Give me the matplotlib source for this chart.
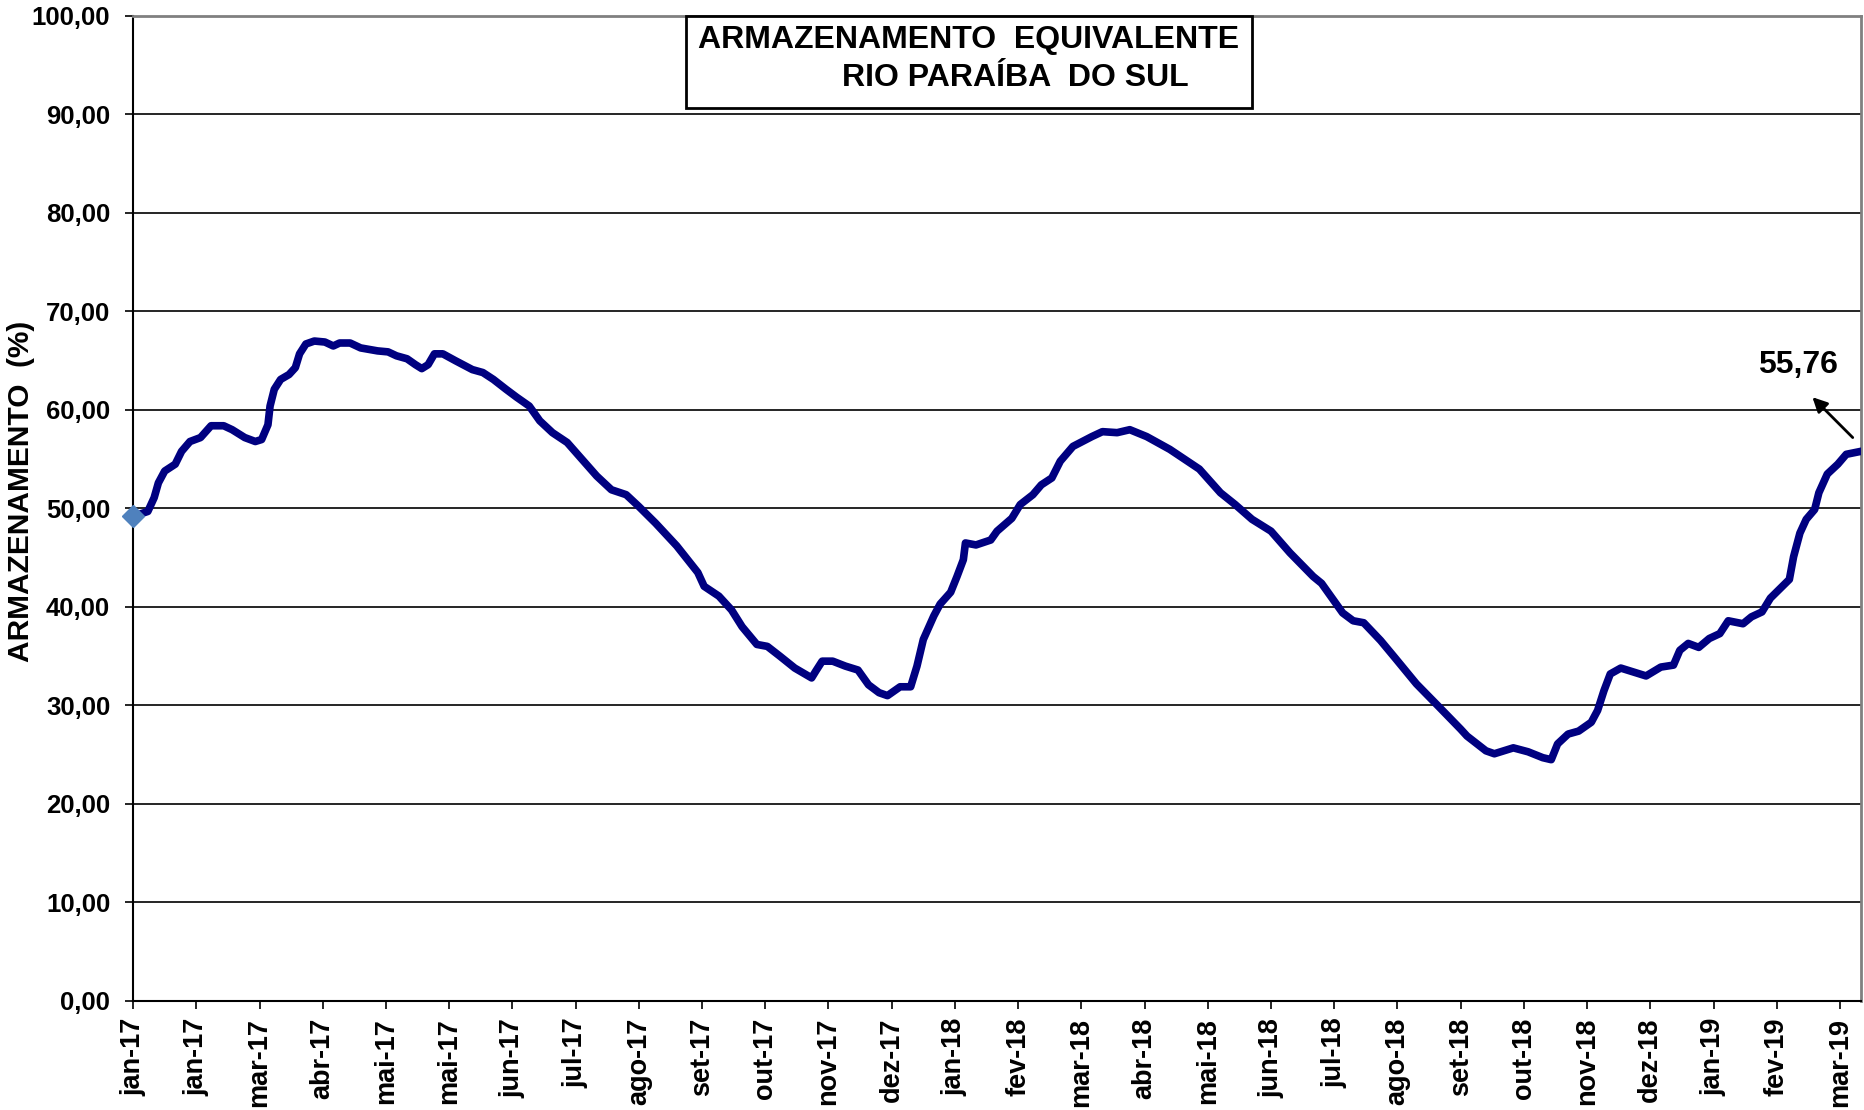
import matplotlib
matplotlib.use('Agg')
import matplotlib.pyplot as plt
from matplotlib.patches import Rectangle

# dias desde 01/01/2017 e armazenamento (%)
dias = [0, 7, 10, 12, 15, 20, 23, 27, 32, 37, 43, 47, 53, 58, 61, 64, 65, 67, 70, 74,
        77, 79, 82, 86, 91, 95, 98, 103, 108, 116, 121, 125, 130, 134, 137, 140, 143, 147,
        153, 161, 166, 171, 177, 182, 188, 193, 199, 206, 213, 220, 227, 234, 240, 248,
        258, 268, 271, 278, 284, 289, 296, 301, 307, 314, 322, 324, 327, 332, 338, 344,
        349, 354, 358, 364, 369, 372, 375, 380, 383, 388, 391, 394, 395, 400, 407, 410,
        417, 421, 427, 431, 436, 440, 446, 455, 460, 467, 473, 481, 492, 506, 516, 523,
        531, 540, 549, 560, 564, 574, 579, 584, 592, 599, 609, 620, 630, 633, 642, 646,
        655, 662, 669, 673, 676, 681, 686, 692, 695, 698, 701, 706, 718, 725, 731, 734,
        738, 743, 748, 753, 757, 764, 768, 773, 777, 786, 788, 791, 794, 798, 800, 804,
        809, 813, 819]
armazenamento = [49.2, 49.7, 51.1, 52.6, 53.8, 54.5, 55.8, 56.8, 57.2, 58.4, 58.4, 58.0,
                 57.2, 56.8, 57.0, 58.5, 60.4, 62.1, 63.1, 63.6, 64.3, 65.7, 66.7, 67.0,
                 66.9, 66.5, 66.8, 66.8, 66.3, 66.0, 65.9, 65.5, 65.2, 64.6, 64.2, 64.6,
                 65.7, 65.7, 65.0, 64.1, 63.8, 63.1, 62.1, 61.3, 60.4, 58.9, 57.7, 56.7,
                 55.0, 53.3, 51.9, 51.4, 50.2, 48.5, 46.2, 43.5, 42.1, 41.1, 39.7, 38.0,
                 36.2, 36.0, 35.0, 33.8, 32.8, 33.5, 34.5, 34.5, 34.0, 33.6, 32.1, 31.3,
                 31.0, 31.9, 31.9, 34.0, 36.7, 39.1, 40.3, 41.5, 43.1, 44.8, 46.5, 46.3,
                 46.8, 47.7, 49.0, 50.4, 51.4, 52.4, 53.1, 54.8, 56.3, 57.3, 57.8, 57.7,
                 58.0, 57.3, 56.0, 54.0, 51.6, 50.4, 48.9, 47.7, 45.5, 43.1, 42.4, 39.4,
                 38.6, 38.4, 36.6, 34.8, 32.2, 29.8, 27.6, 26.9, 25.4, 25.1, 25.7, 25.3,
                 24.7, 24.5, 26.1, 27.1, 27.4, 28.3, 29.5, 31.5, 33.2, 33.8, 33.0, 33.9,
                 34.1, 35.6, 36.3, 35.9, 36.8, 37.3, 38.6, 38.3, 39.0, 39.5, 40.9, 42.8,
                 45.1, 47.5, 48.9, 49.9, 51.6, 53.5, 54.5, 55.5, 55.76]

# marcas do eixo x a cada 30 dias
rotulos_x = ['jan-17', 'jan-17', 'mar-17', 'abr-17', 'mai-17', 'mai-17', 'jun-17',
             'jul-17', 'ago-17', 'set-17', 'out-17', 'nov-17', 'dez-17', 'jan-18',
             'fev-18', 'mar-18', 'abr-18', 'mai-18', 'jun-18', 'jul-18', 'ago-18',
             'set-18', 'out-18', 'nov-18', 'dez-18', 'jan-19', 'fev-19', 'mar-19']
ticks_x = [30 * i for i in range(len(rotulos_x))]

plt.rcParams['font.family'] = ['Liberation Sans', 'DejaVu Sans']
plt.rcParams['font.weight'] = 'bold'

fig = plt.figure(figsize=(18.64, 11.1), dpi=100)
ax = fig.add_axes([0.0714, 0.0982, 0.927, 0.8874])

ax.plot(dias, armazenamento, color='#000080', lw=5.5, solid_joinstyle='round', zorder=4)
ax.plot(dias[0], armazenamento[0], marker='D', color='#4F81BD', markersize=11.5,
        zorder=5, clip_on=False)

ax.set_xlim(0, 820)
ax.set_ylim(0, 100)
ax.set_yticks(range(0, 101, 10))
ax.set_yticklabels([('%.2f' % v).replace('.', ',') for v in range(0, 101, 10)])
ax.set_xticks(ticks_x)
ax.set_xticklabels(rotulos_x, rotation=90)
ax.tick_params(axis='y', labelsize=18.5, length=5.5, width=1.2, pad=11)
ax.tick_params(axis='x', labelsize=19.5, length=6, width=1.2, pad=6)

ax.grid(True, axis='y', color='black', lw=1.2, zorder=1)
for lado in ['left', 'bottom']:
    ax.spines[lado].set_linewidth(1.5)
    ax.spines[lado].set_color('black')
for lado in ['top', 'right']:
    ax.spines[lado].set_linewidth(2)
    ax.spines[lado].set_color('#808080')

ax.set_ylabel('ARMAZENAMENTO  (%)', fontsize=21.5, fontweight='bold')
ax.yaxis.set_label_coords(-0.057, 0.517)

# valor final com seta
ax.annotate('', xy=(796, 61.5), xytext=(817, 57.0),
            arrowprops=dict(arrowstyle='-|>', color='black', lw=2, mutation_scale=22))
ax.text(790, 64.6, ('%.2f' % armazenamento[-1]).replace('.', ','),
        fontsize=23, fontweight='bold', ha='center', va='center')

# caixa do titulo
fig.patches.append(Rectangle((686 / 1864, 1 - 108 / 1110), (1252 - 686) / 1864, 92 / 1110,
                             transform=fig.transFigure, fill=True, facecolor='white',
                             edgecolor='black', lw=2, zorder=10))
fig.text(969 / 1864, 1 - 40 / 1110, 'ARMAZENAMENTO  EQUIVALENTE', fontsize=23,
         fontweight='bold', ha='center', va='center', zorder=11)
fig.text(1015 / 1864, 1 - 78 / 1110, 'RIO PARAÍBA  DO SUL', fontsize=23,
         fontweight='bold', ha='center', va='center', zorder=11)

fig.savefig('out.png', dpi=100)
